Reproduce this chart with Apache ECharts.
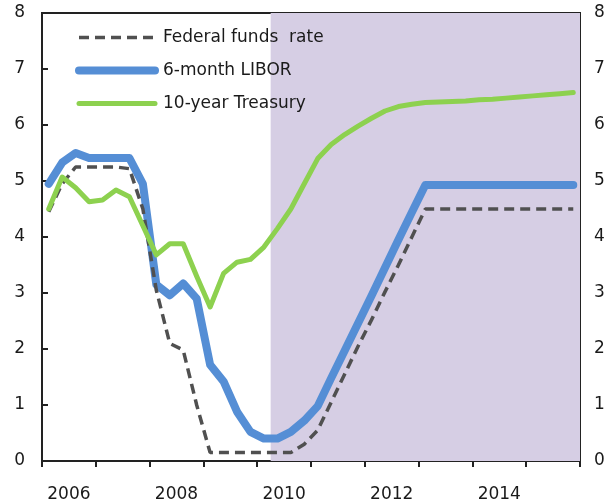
<!DOCTYPE html>
<html>
<head>
<meta charset="utf-8">
<script src="https://cdn.jsdelivr.net/npm/echarts@6/dist/echarts.min.js"></script>
<style>
html,body{margin:0;padding:0;background:#fff;}
#chart{width:614px;height:503px;}
</style>
</head>
<body>
<div id="chart"></div>
<script>
// Quarterly observations (mid-quarter)
const quarters = [
 '2006Q1','2006Q2','2006Q3','2006Q4','2007Q1','2007Q2','2007Q3','2007Q4',
 '2008Q1','2008Q2','2008Q3','2008Q4','2009Q1','2009Q2','2009Q3','2009Q4',
 '2010Q1','2010Q2','2010Q3','2010Q4','2011Q1','2011Q2','2011Q3','2011Q4',
 '2012Q1','2012Q2','2012Q3','2012Q4','2013Q1','2013Q2','2013Q3','2013Q4',
 '2014Q1','2014Q2','2014Q3','2014Q4','2015Q1','2015Q2','2015Q3','2015Q4'
];
const fedFunds = [4.45,4.95,5.25,5.25,5.25,5.25,5.22,4.5,3.05,2.1,1.98,1.0,0.15,0.15,0.15,0.15,0.15,0.15,0.15,0.3,0.55,1.05,1.55,2.05,2.52,3.02,3.5,4.0,4.5,4.5,4.5,4.5,4.5,4.5,4.5,4.5,4.5,4.5,4.5,4.5];
const libor = [4.95,5.33,5.5,5.41,5.41,5.41,5.41,4.95,3.15,2.96,3.17,2.9,1.72,1.42,0.88,0.52,0.4,0.4,0.52,0.72,0.98,1.48,1.97,2.46,2.95,3.45,3.95,4.44,4.93,4.93,4.93,4.93,4.93,4.93,4.93,4.93,4.93,4.93,4.93,4.93];
const treasury = [4.5,5.07,4.88,4.63,4.66,4.84,4.72,4.2,3.68,3.88,3.88,3.3,2.75,3.35,3.55,3.6,3.82,4.15,4.5,4.95,5.4,5.65,5.83,5.98,6.12,6.25,6.33,6.37,6.4,6.41,6.42,6.43,6.45,6.46,6.48,6.5,6.52,6.54,6.56,6.58];
const yearLabels = ['2006','2007','2008','2009','2010','2011','2012','2013','2014','2015'];
const yTicks = [0,1,2,3,4,5,6,7,8];
const seriesNames = ['Federal funds  rate','6-month LIBOR','10-year Treasury'];
const projectionStart = 2010.25;
const projectionEnd = 2016;

function qx(q){ const y = parseInt(q.slice(0,4)); const n = parseInt(q.slice(5)); return y + (n - 0.5)/4; }
function pairs(vals){ return quarters.map((q,i)=>[qx(q), vals[i]]); }

const FONT = 'DejaVu Sans';
const C_FED = '#505050', C_LIBOR = '#558ED5', C_TSY = '#8DD14F';
const FED_DASH = [10,6];
const chart = echarts.init(document.getElementById('chart'), null, {renderer:'canvas'});
chart.setOption({
  animation:false,
  backgroundColor:'#ffffff',
  grid:{left:42,right:34,top:13,bottom:42,show:true,borderColor:'#222',borderWidth:2,backgroundColor:'transparent'},
  legend:{
    data:[
      {name:seriesNames[0],itemStyle:{opacity:0},lineStyle:{color:C_FED,width:3.5,type:FED_DASH}},
      {name:seriesNames[1],itemStyle:{opacity:0},lineStyle:{color:C_LIBOR,width:8,cap:'round'}},
      {name:seriesNames[2],itemStyle:{opacity:0},lineStyle:{color:C_TSY,width:5,cap:'round'}}
    ],
    orient:'vertical', left:70, top:24, itemWidth:76, itemHeight:14, itemGap:16,
    textStyle:{fontFamily:FONT,fontSize:17,color:'#1a1a1a',padding:[0,0,0,3]}, selectedMode:false
  },
  xAxis:[
    {type:'value',min:2006,max:projectionEnd,show:false},
    {type:'category',data:yearLabels,boundaryGap:true,position:'bottom',
     axisLine:{show:true,lineStyle:{color:'#222',width:2}},
     axisTick:{show:true,inside:false,length:6,interval:0,lineStyle:{color:'#222',width:2}},
     axisLabel:{interval:1,margin:25,fontFamily:FONT,fontSize:17,color:'#1a1a1a'},
     splitLine:{show:false}}
  ],
  yAxis:[
    {type:'value',min:yTicks[0],max:yTicks[yTicks.length-1],interval:1,position:'left',
     axisLine:{show:true,lineStyle:{color:'#222',width:2}},
     axisTick:{show:true,inside:true,length:6,lineStyle:{color:'#222',width:2}},
     axisLabel:{margin:17,fontFamily:FONT,fontSize:17,color:'#1a1a1a'},
     splitLine:{show:false}},
    {type:'value',min:yTicks[0],max:yTicks[yTicks.length-1],interval:1,position:'right',
     axisLine:{show:true,lineStyle:{color:'#222',width:2}},
     axisTick:{show:true,inside:true,length:6,lineStyle:{color:'#222',width:2}},
     axisLabel:{margin:14,fontFamily:FONT,fontSize:17,color:'#1a1a1a'},
     splitLine:{show:false}}
  ],
  series:[
    {name:'shade',type:'line',xAxisIndex:0,yAxisIndex:0,data:[],z:1,silent:true,
     markArea:{silent:true,itemStyle:{color:'#D6CEE4'},data:[[{xAxis:projectionStart},{xAxis:projectionEnd}]]}},
    {name:seriesNames[1],type:'line',xAxisIndex:0,yAxisIndex:0,data:pairs(libor),showSymbol:false,symbol:'none',z:3,
     lineStyle:{color:C_LIBOR,width:8,cap:'round',join:'round'},itemStyle:{color:C_LIBOR}},
    {name:seriesNames[0],type:'line',xAxisIndex:0,yAxisIndex:0,data:pairs(fedFunds),showSymbol:false,symbol:'none',z:4,
     lineStyle:{color:C_FED,width:3.5,type:FED_DASH},itemStyle:{color:C_FED}},
    {name:seriesNames[2],type:'line',xAxisIndex:0,yAxisIndex:0,data:pairs(treasury),showSymbol:false,symbol:'none',z:5,
     lineStyle:{color:C_TSY,width:5,cap:'round',join:'round'},itemStyle:{color:C_TSY}}
  ]
});
</script>
</body>
</html>
